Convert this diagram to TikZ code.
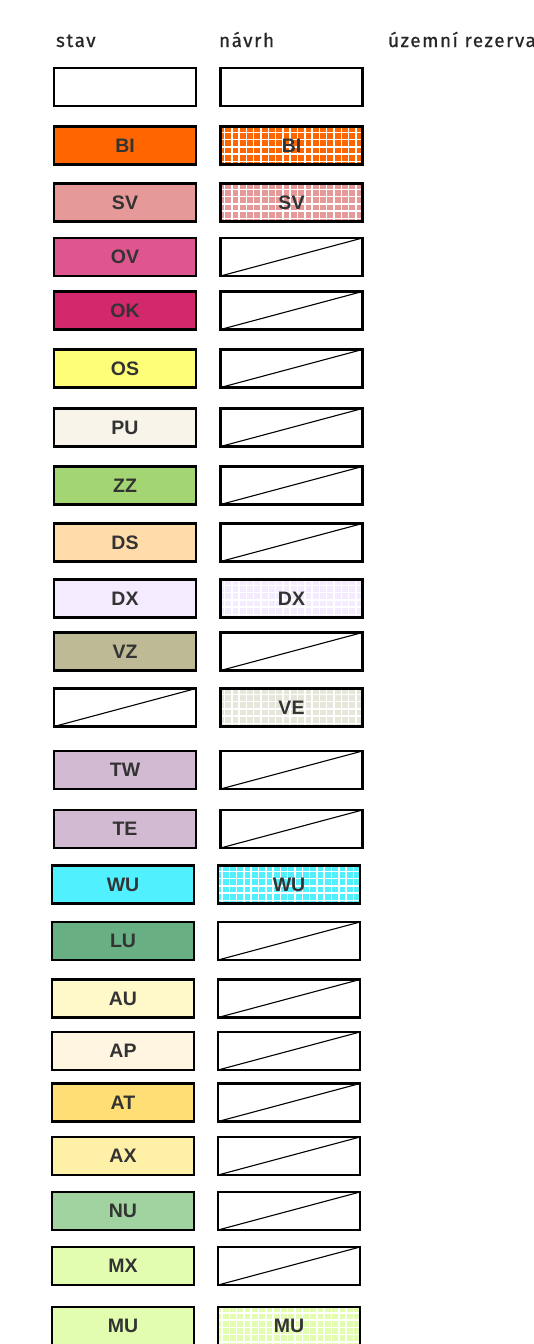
\documentclass[tikz,border=0pt]{standalone}
\usepackage{fontspec}
\setmainfont{Liberation Sans}
\newfontfamily\hlavfont[LetterSpace=8,FakeBold=0.6]{Fira Sans}
\definecolor{popis}{HTML}{333333}
\definecolor{cBI}{HTML}{FF6600}
\definecolor{cSV}{HTML}{E59999}
\definecolor{cOV}{HTML}{DE5590}
\definecolor{cOK}{HTML}{D3286B}
\definecolor{cOS}{HTML}{FFFF77}
\definecolor{cPU}{HTML}{F8F4EA}
\definecolor{cZZ}{HTML}{A3D672}
\definecolor{cDS}{HTML}{FFDCAA}
\definecolor{cDX}{HTML}{F5EBFF}
\definecolor{cVZ}{HTML}{BEBA96}
\definecolor{cVE}{HTML}{E6E6DA}
\definecolor{cTW}{HTML}{D3BAD3}
\definecolor{cWU}{HTML}{50F0FF}
\definecolor{cLU}{HTML}{68AF84}
\definecolor{cAU}{HTML}{FFF8C8}
\definecolor{cAP}{HTML}{FFF5E1}
\definecolor{cAT}{HTML}{FFDF75}
\definecolor{cAX}{HTML}{FFF0A8}
\definecolor{cNU}{HTML}{A0D3A0}
\definecolor{cMX}{HTML}{E3FDB0}

\begin{document}
\begin{tikzpicture}[x=1pt,y=-1pt,
  pole/.style={draw=black, line width=2.6pt, minimum width=142pt, minimum height=38pt,
    inner sep=0pt, font=\bfseries\fontsize{19.5}{19.5}\selectfont, text=popis},
  sikmo/.style={pole, path picture={
    \draw[line width=1.1pt] (path picture bounding box.south west) -- (path picture bounding box.north east);}},
  mriz/.style={pole, fill=#1, path picture={
    \foreach \k in {0,...,20}
      \draw[white, line width=1.5pt] ([xshift=\k*7.3pt+4pt]path picture bounding box.south west) -- ++(0pt,50pt);
    \foreach \k in {0,...,5}
      \draw[white, line width=1.5pt] ([yshift=\k*7.3pt+3pt]path picture bounding box.south west) -- ++(160pt,0pt);}},
  hlava/.style={anchor=base west, font=\hlavfont\fontsize{19}{19}\selectfont, text=black!85}]

% okraje
\useasboundingbox (0,0) rectangle (534,1344);

% hlavicka
\node[hlava] (hstav) at (52.5,47) {stav};
\node[hlava] (hnavrh) at (215.5,47) {návrh};
\node[hlava] (hrez) at (384.5,47) {územní rezerva};

% stav
\node[pole] (s-0) at (125,87) {};
\foreach \x/\y/\t/\c in {125/145.5/BI/cBI, 125/202.5/SV/cSV, 125/257/OV/cOV, 125/310.5/OK/cOK,
    125/368.5/OS/cOS, 125/427.5/PU/cPU, 125/485.5/ZZ/cZZ, 125/542.5/DS/cDS, 125/598.5/DX/cDX,
    125/651.5/VZ/cVZ, 125/770/TW/cTW, 125/829/TE/cTW, 123/884.5/WU/cWU, 123/941/LU/cLU,
    123/998.5/AU/cAU, 123/1051/AP/cAP, 123/1102.5/AT/cAT, 123/1156/AX/cAX, 123/1211/NU/cNU,
    123/1266/MX/cMX, 123/1326/MU/cMX}
  \node[pole, fill=\c] (s-\t) at (\x,\y) {\t};
\node[sikmo] (s-VE) at (125,707.5) {};

% navrh
\node[pole] (n-0) at (291.5,87) {};
\foreach \x/\y/\t in {291.5/257/OV, 291.5/310.5/OK, 291.5/368.5/OS, 291.5/427.5/PU,
    291.5/485.5/ZZ, 291.5/542.5/DS, 291.5/651.5/VZ, 291.5/770/TW, 291.5/829/TE,
    289/941/LU, 289/998.5/AU, 289/1051/AP, 289/1102.5/AT, 289/1156/AX, 289/1211/NU, 289/1266/MX}
  \node[sikmo] (n-\t) at (\x,\y) {};
\node[mriz=cBI, line width=3.4pt] (n-BI) at (291.5,145.5) {BI};
\node[mriz=cSV] (n-SV) at (291.5,202.5) {SV};
\node[mriz=cDX, line width=3.4pt] (n-DX) at (291.5,598.5) {DX};
\node[mriz=cVE] (n-VE) at (291.5,707.5) {VE};
\node[mriz=cWU] (n-WU) at (289,884.5) {WU};
\node[mriz=cMX] (n-MU) at (289,1326) {MU};
\end{tikzpicture}
\end{document}
